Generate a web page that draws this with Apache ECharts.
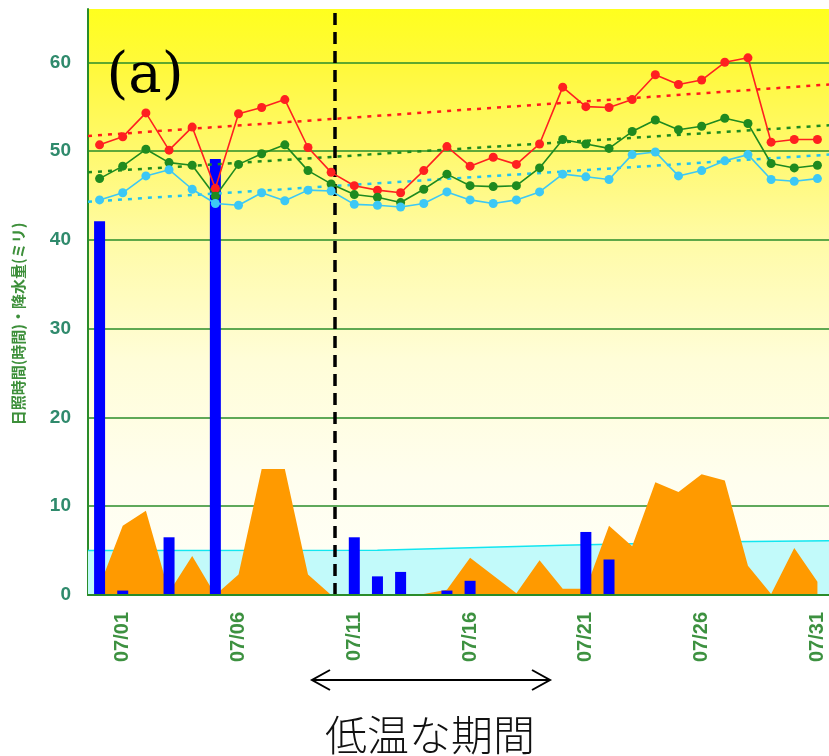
<!DOCTYPE html>
<html><head><meta charset="utf-8">
<script src="https://cdn.jsdelivr.net/npm/echarts@6/dist/echarts.min.js"></script>
<style>html,body{margin:0;padding:0;background:#fff}#c{width:829px;height:756px}</style>
</head><body><div id="c"></div>
<script>
const dates = ['06/30','07/01','07/02','07/03','07/04','07/05','07/06','07/07','07/08','07/09','07/10',
  '07/11','07/12','07/13','07/14','07/15','07/16','07/17','07/18','07/19','07/20',
  '07/21','07/22','07/23','07/24','07/25','07/26','07/27','07/28','07/29','07/30','07/31'];
const tempMax  = [50.7,51.6,54.3,50.1,52.7,45.8,54.2,54.9,55.8,50.4,47.6,46.1,45.6,45.3,47.8,50.5,
  48.3,49.3,48.5,50.8,57.2,55.0,54.9,55.8,58.6,57.5,58.0,60.0,60.5,51.0,51.3,51.3];
const tempMean = [46.9,48.3,50.2,48.7,48.4,44.9,48.5,49.7,50.7,47.8,46.3,45.1,44.8,44.2,45.7,47.4,
  46.1,46.0,46.1,48.1,51.3,50.8,50.3,52.2,53.5,52.4,52.8,53.7,53.1,48.6,48.1,48.4];
const tempMin  = [44.5,45.3,47.2,47.9,45.7,44.1,43.9,45.3,44.4,45.6,45.5,44.0,43.9,43.7,44.1,45.4,
  44.5,44.1,44.5,45.4,47.4,47.1,46.8,49.6,49.9,47.2,47.8,48.9,49.6,46.8,46.6,46.9];
const sunshine = [1.0,7.8,9.5,0.3,4.4,0.0,2.3,14.2,14.2,2.3,0.0,0.0,0.0,0.0,0.1,0.6,
  4.2,2.2,0.2,3.9,0.7,0.7,7.8,5.5,12.7,11.6,13.6,12.9,3.3,0.1,5.3,1.5];
const precip   = [42.1,0.5,0,6.5,0,49.1,0,0,0,0,0,6.5,2.1,2.6,0,0.5,
  1.6,0,0,0,0,7.1,4.0,0,0,0,0,0,0,0,0,0];
const trendMax  = [51.7, 57.5];
const trendMean = [47.6, 52.9];
const trendMin  = [44.3, 49.6];
const normalX = [-0.5, 12, 20, 27, 31.5];
const normalY = [5.0, 5.05, 5.6, 6.0, 6.1];
const coldStart = 10.15;
const yMax = 66, yStep = 10;

const xEdge = [-0.5, dates.length - 0.5];
const pairs = (xs, ys) => xs.map((x, i) => [x, ys[i]]);
const chart = echarts.init(document.getElementById('c'), null, {renderer: 'canvas'});
const trendStyle = c => ({color: c, width: 2.5, type: [4, 6]});
const lineSeries = (name, data, color) => ({
  name, type: 'line', data, xAxisIndex: 0, z: 6,
  symbol: 'circle', symbolSize: 9,
  itemStyle: {color}, lineStyle: {color, width: 1.6}
});
chart.setOption({
  animation: false,
  grid: {left: 88, top: 9, width: 742, height: 586, show: true, borderWidth: 0,
    backgroundColor: new echarts.graphic.LinearGradient(0, 0, 0, 1, [
      {offset: 0, color: '#ffff1e'},
      {offset: 0.1, color: '#fff93c'},
      {offset: 0.25, color: '#fff970'},
      {offset: 0.4, color: '#fffba8'},
      {offset: 0.6, color: '#fffdd8'},
      {offset: 0.8, color: '#fffeee'},
      {offset: 1, color: '#fffff8'}
    ])},
  xAxis: [{
    type: 'category', data: dates, boundaryGap: true, z: 8,
    axisLine: {lineStyle: {color: '#2a8c2a', width: 2}},
    axisTick: {inside: true, length: 6, interval: i => i % 5 === 1, lineStyle: {color: '#2a8c2a', width: 2}},
    axisLabel: {rotate: 90, interval: i => i % 5 === 1, margin: 17, color: '#3d9140',
      fontSize: 20, fontWeight: 'bold', fontFamily: 'Liberation Sans'}
  }, {
    type: 'value', min: xEdge[0], max: xEdge[1], show: false
  }],
  yAxis: {
    type: 'value', min: 0, max: yMax, interval: yStep,
    axisLine: {show: true, onZero: false, lineStyle: {color: '#2a8c2a', width: 2}},
    axisTick: {show: false},
    axisLabel: {margin: 17, color: '#2f8a6c', fontSize: 19, fontWeight: 'bold',
      fontFamily: 'Liberation Sans', showMaxLabel: false},
    splitLine: {show: true, showMaxLine: false, lineStyle: {color: '#2a8c2a', width: 1.5}}
  },
  series: [
    {type: 'line', xAxisIndex: 1, data: pairs(normalX, normalY), symbol: 'none', z: 1,
      lineStyle: {color: '#12e6f0', width: 1.5}, areaStyle: {color: '#c2fafa', opacity: 1}},
    {type: 'line', xAxisIndex: 0, data: sunshine, symbol: 'none', z: 2,
      lineStyle: {width: 0}, areaStyle: {color: '#ff9a00', opacity: 1}},
    {type: 'bar', xAxisIndex: 0, data: precip, barWidth: 11, z: 3,
      itemStyle: {color: '#0000ff'}},
    {type: 'line', xAxisIndex: 1, data: pairs(xEdge, trendMax), symbol: 'none', z: 4,
      lineStyle: trendStyle('#ff1a1a'),
      markLine: {silent: true, symbol: 'none', label: {show: false},
        lineStyle: {color: '#000', width: 3.5, type: [12, 7]},
        data: [{xAxis: coldStart}]}},
    {type: 'line', xAxisIndex: 1, data: pairs(xEdge, trendMean), symbol: 'none', z: 4,
      lineStyle: trendStyle('#1e8a1e')},
    {type: 'line', xAxisIndex: 1, data: pairs(xEdge, trendMin), symbol: 'none', z: 4,
      lineStyle: trendStyle('#22c4f0')},
    lineSeries('max', tempMax, '#ff2020'),
    lineSeries('mean', tempMean, '#1f8a1f'),
    lineSeries('min', tempMin, '#3cc8f5')
  ],
  graphic: [
    {type: 'text', x: 18, y: 324, rotation: Math.PI / 2, z: 10,
      style: {text: '日照時間(時間)・降水量(ミリ)', fill: '#3d8f3a', font: 'bold 15px "Noto Sans CJK JP"',
        align: 'center', verticalAlign: 'middle'}},
    {type: 'text', x: 145, y: 77, z: 10,
      style: {text: '(a)', fill: '#000', font: '56px "DejaVu Serif"', align: 'center', verticalAlign: 'middle'}},
    {type: 'group', z: 10, children: [
      {type: 'line', shape: {x1: 312, y1: 680, x2: 550, y2: 680}, style: {stroke: '#000', lineWidth: 2}},
      {type: 'polyline', shape: {points: [[330, 670], [312, 680], [330, 690]]}, style: {stroke: '#000', lineWidth: 2, fill: null}},
      {type: 'polyline', shape: {points: [[532, 670], [550, 680], [532, 690]]}, style: {stroke: '#000', lineWidth: 2, fill: null}}
    ]},
    {type: 'text', x: 430, y: 735, z: 10,
      style: {text: '低温な期間', fill: '#111', font: '300 42px "Noto Sans CJK JP"', align: 'center', verticalAlign: 'middle'}}
  ]
});
</script></body></html>
